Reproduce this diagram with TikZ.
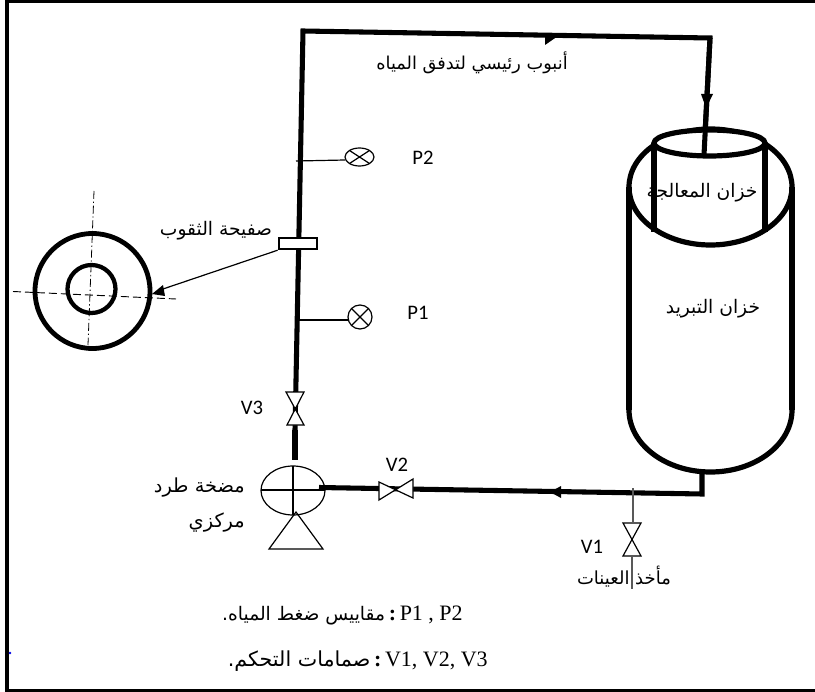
\documentclass[tikz,border=0pt]{standalone}
\usepackage{fontspec}
\usetikzlibrary{arrows.meta}
\setmainfont{Liberation Sans}
\newfontfamily\arab[Script=Arabic]{DejaVu Sans}
\newfontfamily\calb{Carlito}
\newfontfamily\tnr{Liberation Serif}
\TeXXeTstate=1
\newcommand{\ar}[1]{{\arab\beginR #1\endR}}
\tikzset{
  pipe/.style={line width=3.8pt,line join=miter},
  thin line/.style={line width=0.9pt},
  tank/.style={line width=3.9pt},
  lab/.style={font=\calb\fontsize{15.5}{17}\selectfont,inner sep=0pt},
  arl/.style={font=\fontsize{14}{16}\selectfont,inner sep=0pt,align=center},
  center line/.style={line width=0.6pt,dash pattern=on 6pt off 2pt on 1pt off 2pt},
  hdash/.style={line width=0.7pt,dash pattern=on 6pt off 3pt},
  valve/.style={draw,line width=0.9pt,fill=white},
  legend/.style={inner sep=0pt,anchor=east,font=\tnr\fontsize{16.5}{18}\selectfont}
}
\begin{document}
\begin{tikzpicture}[x=0.75pt,y=-0.75pt]
\useasboundingbox (0,0) rectangle (815,692);
\fill[white] (0,0) rectangle (815,692);
% frame
\draw[line width=3pt] (815,1.5) -- (7,1.5) -- (7,690.5) -- (815,690.5);
% main pipe
\coordinate (tl) at (303,31);
\coordinate (tr) at (710,38);
\coordinate (tin) at (704,153);
\draw[pipe] (295,430) -- (tl) -- (tr) -- (tin);
\fill (558,36) -- (545,45) -- (545,34) -- cycle;
% tanks
\draw[tank] (710.5,187) ellipse[x radius=81.5,y radius=58];
\draw[tank] (629,187) -- (629,410);
\draw[tank] (792,187) -- (792,410);
\draw[tank] (629,410) arc[start angle=180,end angle=0,x radius=81.5,y radius=62];
\draw[tank] (654,143) -- (654,232);
\draw[tank] (765,143) -- (765,232);
\draw[tank,fill=white] (709.5,143) ellipse[x radius=55.5,y radius=13];
\draw[pipe] (710,38) -- (704,155);
\fill (701,94) -- (713,94) -- (706,108) -- cycle;
\node[arl] (ntreat) at (702,193) {\ar{خزان المعالجة}};
\node[arl] (ncool) at (713,309) {\ar{خزان التبريد}};
% return pipe
\draw[pipe] (702,471) -- (702,494) -- (319,487.5);
\fill (550,492) -- (561,486) -- (561,498) -- cycle;
% sampling line
\draw[thin line,gray!70!black] (633,488) -- (633,522);
\draw[valve] (623,523) -- (641,523) -- (623,556) -- (641,556) -- cycle;
\draw[thin line,gray!70!black] (632,556) -- (632,589);
\node[lab] (nv1) at (592,547) {V1};
\node[arl,font=\fontsize{13.5}{16}\selectfont] (nsample) at (624,577) {\ar{مأخذ العينات}};
% V2
\draw[valve] (379,482) -- (413,498) -- (413,479) -- (379,500) -- cycle;
\node[lab] (nv2) at (397,465) {V2};
% V3
\draw[valve] (286,392) -- (304,392) -- (287,425) -- (304,425) -- cycle;
\node[lab] (nv3) at (252,408) {V3};
% pump
\draw[line width=0.9pt] (293,490.5) ellipse[x radius=32,y radius=24.5];
\draw[line width=0.8pt] (293,466) -- (293,515);
\draw[line width=0.8pt] (261,490) -- (325,490);
\draw[line width=0.9pt] (296,512) -- (269,549) -- (323,549) -- cycle;
\draw[pipe] (295,430) -- (295,460);
\node[arl,align=right,anchor=east,font=\fontsize{14.5}{26}\selectfont] (npump) at (245,505) {\ar{مضخة طرد}\\\ar{مركزي}};
% gauges
\draw[thin line] (296,161) -- (345,160);
\draw[line width=0.9pt] (359.5,157) ellipse[x radius=14.5,y radius=9];
\draw[line width=0.9pt] (349.5,150.5) -- (369.5,163.5) (349.5,163.5) -- (369.5,150.5);
\draw[thin line] (297,320) -- (348,320);
\draw[line width=0.9pt,fill=white] (360,317) circle[radius=12];
\draw[line width=0.9pt] (351.5,308.5) -- (368.5,325.5) (351.5,325.5) -- (368.5,308.5);
\node[lab] (np2) at (423,158) {P2};
\node[lab] (np1) at (418,313) {P1};
% plate
\node[draw,line width=1.6pt,fill=white,minimum width=29pt,minimum height=8.5pt,inner sep=0pt] (pl) at (298,243.5) {};
\node[arl] (nholes) at (216,231) {\ar{صفيحة الثقوب}};
% disc
\draw[line width=3.6pt] (92.5,291) circle[radius=57.5];
\draw[line width=3.2pt] (91.5,289) circle[radius=24];
\draw[center line] (94,191) -- (88,345);
\draw[hdash] (13,291.5) -- (176,299);
\draw[line width=0.9pt] (pl.south west) -- (160,290);
\fill (152,294) -- (163,285) -- (165,296) -- cycle;
\node[arl,font=\fontsize{13.3}{16}\selectfont] (npipe) at (472,63) {\ar{أنبوب رئيسي لتدفق المياه}};
% legend
\node[legend] (leg1) at (463,615) {{\arab\fontsize{14}{16}\selectfont\beginR مقاييس ضغط المياه.\endR}\,{\bfseries:}\,P1 , P2};
\node[legend] (leg2) at (488,661) {{\arab\fontsize{15.5}{16}\selectfont\beginR صمامات التحكم.\endR}\,{\bfseries:}\,V1, V2, V3};
\fill[blue!90!black] (10,653) circle[radius=1.3];
\end{tikzpicture}
\end{document}
